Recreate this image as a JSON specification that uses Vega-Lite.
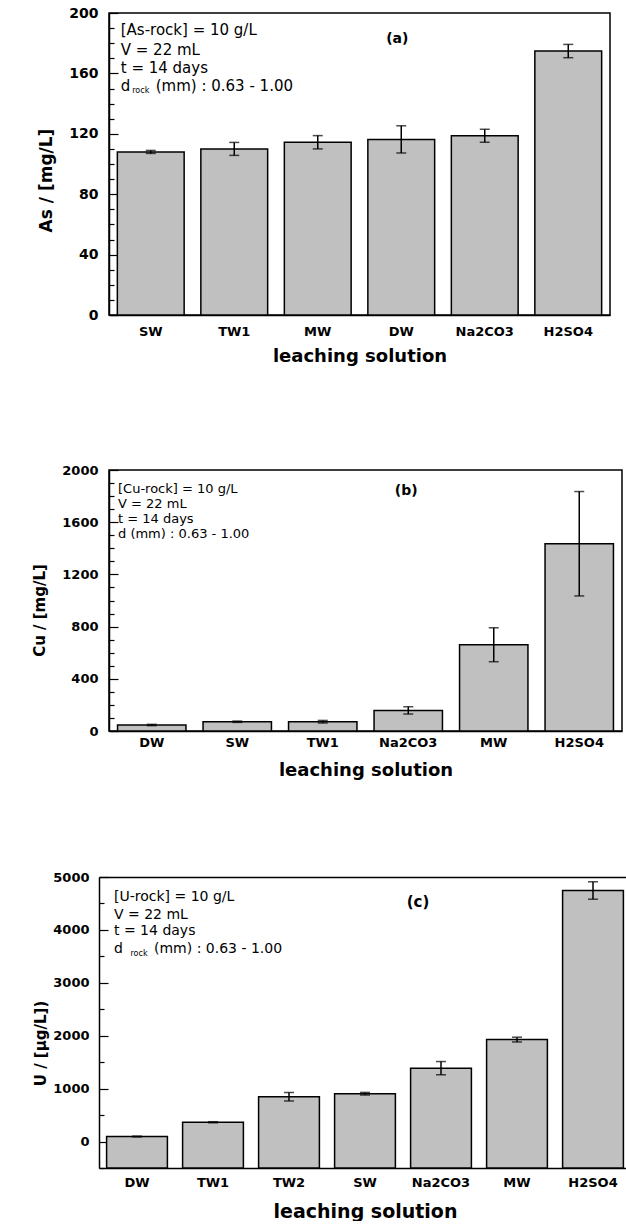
{
  "$schema": "https://vega.github.io/schema/vega-lite/v6.json",
  "padding": {"left": 32, "top": 5, "right": 0, "bottom": 0},
  "background": "white",
  "config": {
    "view": {"stroke": "black", "strokeWidth": 1.5},
    "axis": {"grid": false, "domainColor": "black", "domainWidth": 1.5, "tickColor": "black", "tickWidth": 1.2, "labelColor": "black", "titleColor": "black", "labelFont": "DejaVu Sans", "titleFont": "DejaVu Sans", "labelFontWeight": "bold", "titleFontWeight": "bold"},
    "text": {"font": "DejaVu Sans", "color": "black"}
  },
  "datasets": {
    "a": [
      {"s": "SW", "v": 108, "e": 1},
      {"s": "TW1", "v": 110, "e": 4.3},
      {"s": "MW", "v": 114.4, "e": 4.4},
      {"s": "DW", "v": 116.3, "e": 9},
      {"s": "Na2CO3", "v": 118.7, "e": 4.3},
      {"s": "H2SO4", "v": 174.8, "e": 4.4}
    ],
    "aT": [
      {"s": "SW", "v": 188.7, "t": "[As-rock] = 10 g/L"},
      {"s": "SW", "v": 175.5, "t": "V = 22 mL"},
      {"s": "SW", "v": 163.8, "t": "t = 14 days"}
    ],
    "aD": [{"s": "SW", "v": 151.5, "t": "d", "sub": "rock", "r": "(mm) : 0.63 - 1.00"}],
    "aL": [{"s": "DW", "v": 183, "t": "(a)"}],
    "b": [
      {"s": "DW", "v": 46, "e": 5},
      {"s": "SW", "v": 71, "e": 5},
      {"s": "TW1", "v": 71, "e": 10},
      {"s": "Na2CO3", "v": 158, "e": 28},
      {"s": "MW", "v": 661, "e": 130},
      {"s": "H2SO4", "v": 1435, "e": 400}
    ],
    "bT": [
      {"s": "DW", "v": 1852, "t": "[Cu-rock] = 10 g/L"},
      {"s": "DW", "v": 1737, "t": "V = 22 mL"},
      {"s": "DW", "v": 1622, "t": "t = 14 days"},
      {"s": "DW", "v": 1507, "t": "d (mm) : 0.63 - 1.00"}
    ],
    "bL": [{"s": "Na2CO3", "v": 1841, "t": "(b)"}],
    "c": [
      {"s": "DW", "v": 95, "e": 8},
      {"s": "TW1", "v": 365, "e": 10},
      {"s": "TW2", "v": 847, "e": 80},
      {"s": "SW", "v": 904, "e": 25},
      {"s": "Na2CO3", "v": 1387, "e": 125},
      {"s": "MW", "v": 1927, "e": 45},
      {"s": "H2SO4", "v": 4745, "e": 165}
    ],
    "cT": [
      {"s": "DW", "v": 4630, "t": "[U-rock] = 10 g/L"},
      {"s": "DW", "v": 4286, "t": "V = 22 mL"},
      {"s": "DW", "v": 3971, "t": "t = 14 days"}
    ],
    "cD": [{"s": "DW", "v": 3640, "t": "d", "sub": "rock", "r": "(mm) : 0.63 - 1.00"}],
    "cL": [{"s": "Na2CO3", "v": 4536, "t": "(c)"}]
  },
  "spacing": 91,
  "vconcat": [
    {
      "spacing": 97,
      "vconcat": [
        {
          "width": 501,
          "height": 302,
          "encoding": {
            "x": {"field": "s", "type": "nominal", "sort": null, "title": "leaching solution",
              "scale": {"domain": ["SW", "TW1", "MW", "DW", "Na2CO3", "H2SO4"], "paddingInner": 0.2, "paddingOuter": 0.1},
              "axis": {"labelAngle": 0, "ticks": false, "labelPadding": 10, "labelFontSize": 13, "titleFontSize": 18, "titlePadding": 9}},
            "y": {"field": "v", "type": "quantitative", "title": "As / [mg/L]",
              "scale": {"domain": [0, 200], "nice": false, "zero": false},
              "axis": {"values": [0, 10, 20, 30, 40, 50, 60, 70, 80, 90, 100, 110, 120, 130, 140, 150, 160, 170, 180, 190, 200],
                "labelExpr": "datum.value % 40 === 0 ? datum.label : ''",
                "tickSize": {"condition": {"test": "datum.value % 40 === 0", "value": -9}, "value": -5},
                "labelPadding": 20, "labelFontSize": 14, "titleFontSize": 17, "titlePadding": 13, "titleY": 167}}
          },
          "layer": [
            {"data": {"name": "a"}, "mark": {"type": "bar", "fill": "#c0c0c0", "stroke": "black", "strokeWidth": 1.5}},
            {"data": {"name": "a"}, "mark": {"type": "errorbar", "ticks": true, "size": 10, "thickness": 1.5, "color": "black"}, "encoding": {"yError": {"field": "e"}}},
            {"data": {"name": "aT"}, "mark": {"type": "text", "align": "left", "baseline": "middle", "dx": -30, "fontSize": 15}, "encoding": {"text": {"field": "t"}}},
            {"data": {"name": "aD"}, "mark": {"type": "text", "align": "left", "baseline": "middle", "dx": -30, "fontSize": 15}, "encoding": {"text": {"field": "t"}}},
            {"data": {"name": "aD"}, "mark": {"type": "text", "align": "left", "baseline": "middle", "dx": -18.5, "dy": 5, "fontSize": 8}, "encoding": {"text": {"field": "sub"}}},
            {"data": {"name": "aD"}, "mark": {"type": "text", "align": "left", "baseline": "middle", "dx": 5, "fontSize": 15}, "encoding": {"text": {"field": "r"}}},
            {"data": {"name": "aL"}, "mark": {"type": "text", "align": "center", "baseline": "middle", "dx": -4, "fontSize": 14, "fontWeight": "bold"}, "encoding": {"text": {"field": "t"}}}
          ]
        },
        {
          "width": 513,
          "height": 261,
          "encoding": {
            "x": {"field": "s", "type": "nominal", "sort": null, "title": "leaching solution",
              "scale": {"domain": ["DW", "SW", "TW1", "Na2CO3", "MW", "H2SO4"], "paddingInner": 0.2, "paddingOuter": 0.1},
              "axis": {"labelAngle": 0, "ticks": false, "labelPadding": 5, "labelFontSize": 13, "titleFontSize": 18, "titlePadding": 12}},
            "y": {"field": "v", "type": "quantitative", "title": "Cu / [mg/L]",
              "scale": {"domain": [0, 2000], "nice": false, "zero": false},
              "axis": {"values": [0, 100, 200, 300, 400, 500, 600, 700, 800, 900, 1000, 1100, 1200, 1300, 1400, 1500, 1600, 1700, 1800, 1900, 2000],
                "labelExpr": "datum.value % 400 === 0 ? replace(datum.label, ',', '') : ''",
                "tickSize": {"condition": {"test": "datum.value % 400 === 0", "value": -9}, "value": -5},
                "labelPadding": 20, "labelFontSize": 13, "titleFontSize": 15, "titlePadding": 14, "titleY": 140}}
          },
          "layer": [
            {"data": {"name": "b"}, "mark": {"type": "bar", "fill": "#c0c0c0", "stroke": "black", "strokeWidth": 1.5}},
            {"data": {"name": "b"}, "mark": {"type": "errorbar", "ticks": true, "size": 10, "thickness": 1.5, "color": "black"}, "encoding": {"yError": {"field": "e"}}},
            {"data": {"name": "bT"}, "mark": {"type": "text", "align": "left", "baseline": "middle", "dx": -33.75, "fontSize": 13}, "encoding": {"text": {"field": "t"}}},
            {"data": {"name": "bL"}, "mark": {"type": "text", "align": "center", "baseline": "middle", "dx": -2, "fontSize": 14, "fontWeight": "bold"}, "encoding": {"text": {"field": "t"}}}
          ]
        }
      ]
    },
    {
      "width": 515,
      "height": 291,
      "view": {"stroke": null},
      "resolve": {"axis": {"x": "independent"}},
      "encoding": {
        "x": {"field": "s", "type": "nominal", "sort": null, "axis": null,
          "scale": {"domain": ["DW", "TW1", "TW2", "SW", "Na2CO3", "MW", "H2SO4"], "range": [-10, 522], "paddingInner": 0.2, "paddingOuter": 0.1}},
        "y": {"field": "v", "type": "quantitative", "title": "U / [µg/L])",
          "scale": {"domain": [-500, 5000], "nice": false, "zero": false},
          "axis": {"values": [-500, 0, 500, 1000, 1500, 2000, 2500, 3000, 3500, 4000, 4500, 5000],
            "offset": 10,
            "labelExpr": "datum.value % 1000 === 0 ? replace(datum.label, ',', '') : ''",
            "tickSize": {"condition": {"test": "datum.value % 1000 === 0", "value": -9}, "value": -5},
            "labelPadding": 19, "labelFontSize": 13, "titleFontSize": 15, "titlePadding": 4, "titleY": 166}}
      },
      "layer": [
        {"data": {"name": "c"}, "mark": {"type": "bar", "fill": "#c0c0c0", "stroke": "black", "strokeWidth": 1.5},
          "encoding": {
            "x": {"field": "s", "type": "nominal", "sort": null, "title": "leaching solution",
              "axis": {"orient": "bottom", "labelAngle": 0, "ticks": false, "labelPadding": 8, "labelFontSize": 13, "titleFontSize": 19, "titlePadding": 13}},
            "y2": {"datum": -500}}},
        {"data": {"name": "c"}, "mark": {"type": "errorbar", "ticks": true, "size": 10, "thickness": 1.5, "color": "black"},
          "encoding": {
            "x": {"field": "s", "type": "nominal", "sort": null, "title": null,
              "axis": {"orient": "top", "labels": false, "ticks": false, "title": null}},
            "yError": {"field": "e"}}},
        {"data": {"name": "cT"}, "mark": {"type": "text", "align": "left", "baseline": "middle", "dx": -23, "fontSize": 14}, "encoding": {"text": {"field": "t"}}},
        {"data": {"name": "cD"}, "mark": {"type": "text", "align": "left", "baseline": "middle", "dx": -23, "fontSize": 14}, "encoding": {"text": {"field": "t"}}},
        {"data": {"name": "cD"}, "mark": {"type": "text", "align": "left", "baseline": "middle", "dx": -6.5, "dy": 5, "fontSize": 8}, "encoding": {"text": {"field": "sub"}}},
        {"data": {"name": "cD"}, "mark": {"type": "text", "align": "left", "baseline": "middle", "dx": 17, "fontSize": 14}, "encoding": {"text": {"field": "r"}}},
        {"data": {"name": "cL"}, "mark": {"type": "text", "align": "center", "baseline": "middle", "dx": -23, "fontSize": 15, "fontWeight": "bold"}, "encoding": {"text": {"field": "t"}}}
      ]
    }
  ]
}
